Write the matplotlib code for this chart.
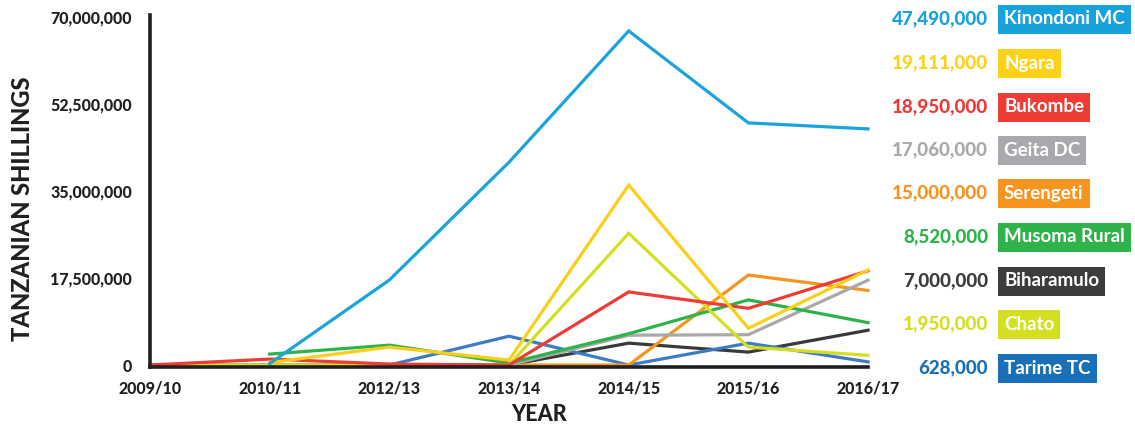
import matplotlib.pyplot as plt
import numpy as np

# Données (millions de TZS)
years = ['2009/10', '2010/11', '2012/13', '2013/14', '2014/15', '2015/16', '2016/17']
nan = np.nan

kinondoni = [nan, 0.3, 17.1, 40.8, 67.2, 48.7, 47.49]
ngara = [nan, 0.5, 3.6, 1.0, 36.2, 7.4, 19.111]
bukombe = [0.0, 1.2, 0.2, 0.0, 14.7, 11.4, 18.95]
geita = [0.0, 0.0, 0.0, 0.0, 6.0, 6.1, 17.06]
serengeti = [0.0, 0.0, 0.0, 0.0, 0.0, 18.1, 15.0]
musoma = [nan, 2.2, 4.0, 0.4, 6.3, 13.1, 8.52]
biharamulo = [0.0, 0.0, 0.0, 0.0, 4.4, 2.6, 7.0]
chato = [0.0, 0.0, 0.0, 0.0, 26.5, 3.6, 1.95]
tarime = [0.0, 0.0, 0.0, 5.8, 0.0, 4.4, 0.628]

names = ['Kinondoni MC', 'Ngara', 'Bukombe', 'Geita DC', 'Serengeti',
         'Musoma Rural', 'Biharamulo', 'Chato', 'Tarime TC']
series = [kinondoni, ngara, bukombe, geita, serengeti, musoma, biharamulo, chato, tarime]
line_colors = ['#1ba3dc', '#fbcf17', '#ee3b36', '#a8a9ab', '#f7941d',
               '#2db34a', '#3a3a3a', '#d4df22', '#3d7cc4']
box_colors = ['#17a2db', '#fbd217', '#ee3b36', '#a8a9ac', '#f7941d',
              '#2db34a', '#3c3c3c', '#d4df22', '#1a70b8']
final_labels = ['47,490,000', '19,111,000', '18,950,000', '17,060,000', '15,000,000',
                '8,520,000', '7,000,000', '1,950,000', '628,000']

yticks = [0, 17.5, 35, 52.5, 70]
ytick_labels = ['0', '17,500,000', '35,000,000', '52,500,000', '70,000,000']

dark = '#231f20'
plt.rcParams['font.family'] = ['Lato', 'DejaVu Sans']

fig = plt.figure(figsize=(11.35, 4.24), dpi=100)
ax = fig.add_axes([0.1322, 0.1344, 0.6326, 0.8302])

x = np.arange(len(years))
# ordre de tracé : les lignes du bas d'abord, Kinondoni au-dessus
order = [6, 8, 4, 3, 5, 7, 2, 1, 0]
for i in order:
    ax.plot(x, series[i], color=line_colors[i], lw=2.3, solid_joinstyle='miter',
            clip_on=False, zorder=3)

ax.set_xlim(0, 6)
ax.set_ylim(-0.4, 70.4)
ax.set_xticks(x)
ax.set_xticklabels(years)
ax.set_yticks(yticks)
ax.set_yticklabels(ytick_labels)
ax.tick_params(length=0, labelsize=11.5, colors=dark)
ax.tick_params(axis='y', pad=13)
ax.tick_params(axis='x', pad=10)
for lab in ax.get_xticklabels() + ax.get_yticklabels():
    lab.set_fontweight('black')

for side in ['top', 'right']:
    ax.spines[side].set_visible(False)
for side in ['left', 'bottom']:
    ax.spines[side].set_linewidth(2.6)
    ax.spines[side].set_color(dark)
    ax.spines[side].set_zorder(4)

ax.set_ylabel('TANZANIAN SHILLINGS', fontsize=17, fontweight='black', color=dark)
ax.yaxis.set_label_coords(-0.162, 0.45)
ax.set_xlabel('YEAR', fontsize=15.5, fontweight='black', color=dark)
ax.xaxis.set_label_coords(0.542, -0.104)

# Légende à droite : valeur finale + étiquette colorée
row_y = [19, 63, 107, 150, 193, 237, 281, 324, 368]
for i in range(len(names)):
    yf = 1 - row_y[i] / 424
    fig.text(988 / 1135, yf, final_labels[i], ha='right', va='center',
             fontsize=13.5, fontweight='black', color=box_colors[i])
    fig.text(1004 / 1135, yf, names[i], ha='left', va='center',
             fontsize=13.5, fontweight='bold', color='white',
             bbox=dict(boxstyle='square,pad=0.32', fc=box_colors[i], ec='none'))

fig.savefig('out.png', dpi=100)
